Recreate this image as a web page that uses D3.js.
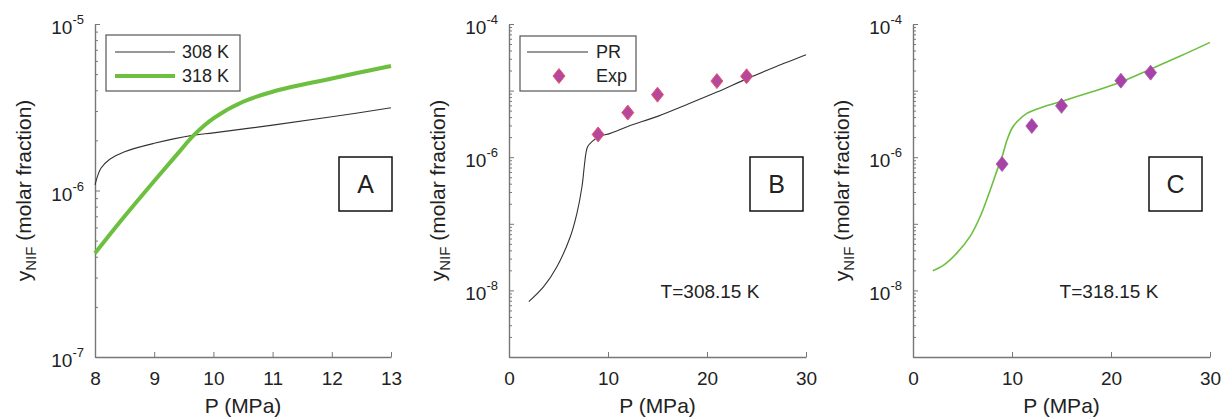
<!DOCTYPE html>
<html>
<head>
<meta charset="utf-8">
<script src="https://cdn.jsdelivr.net/npm/d3@7"></script>
<style>
  body { margin: 0; background: #fff; }
  text { font-family: "Liberation Sans", Arial, sans-serif; fill: #222; }
</style>
</head>
<body>
<script>
// panel A: solubility vs pressure, 8-13 MPa
var pressureA = [8, 8.1, 8.25, 8.5, 9, 9.67, 10, 11, 12, 13];
var y308 = [1.08e-6, 1.36e-6, 1.54e-6, 1.71e-6, 1.92e-6, 2.15e-6, 2.22e-6, 2.47e-6, 2.77e-6, 3.14e-6];
var pressureA318 = [8, 8.5, 9, 9.4, 9.67, 10, 10.5, 11, 12, 13];
var y318 = [4.2e-7, 7.0e-7, 1.14e-6, 1.67e-6, 2.15e-6, 2.71e-6, 3.41e-6, 3.92e-6, 4.71e-6, 5.6e-6];

// panel B: PR model at 308.15 K
var pressureB = [2, 3.5, 4.84, 6.19, 6.86, 7.37, 7.6, 7.77, 7.94, 8.38, 9.05, 10.23, 12, 15, 18, 21, 24, 27, 30];
var yPR308 = [6.8e-9, 1.14e-8, 2.27e-8, 6.4e-8, 1.44e-7, 3.6e-7, 7.2e-7, 1.14e-6, 1.44e-6, 1.71e-6, 2.03e-6, 2.28e-6,
              2.9e-6, 4.1e-6, 6.2e-6, 9.5e-6, 1.5e-5, 2.3e-5, 3.45e-5];

// panel C: PR model at 318.15 K
var pressureC = [2, 3.1, 4.4, 5.8, 6.8, 7.8, 8.5, 9, 9.5, 10, 10.5, 11.5, 13.2, 15, 18, 21, 24, 27, 30];
var yPR318 = [1.98e-8, 2.4e-8, 3.6e-8, 6.6e-8, 1.3e-7, 3.22e-7, 6.4e-7, 1.02e-6, 1.81e-6, 2.72e-6, 3.41e-6,
              4.56e-6, 5.73e-6, 6.9e-6, 9.5e-6, 1.35e-5, 2.1e-5, 3.3e-5, 5.3e-5];

// experimental points
var expP = [9, 12, 15, 21, 24];
var exp308 = [2.2e-6, 4.67e-6, 8.7e-6, 1.39e-5, 1.64e-5];
var exp318 = [7.9e-7, 2.94e-6, 5.9e-6, 1.41e-5, 1.86e-5];

var green = "#6cbf3f";
var width = 1222, height = 420;
var top_ = 24, bottom = 357;

var svg = d3.select("body").append("svg")
    .attr("width", width)
    .attr("height", height);

var panels = [
  { left: 95, right: 391, xDomain: [8, 13], xTicks: [8, 9, 10, 11, 12, 13],
    yDomain: [1e-7, 1e-5], yLabels: [-7, -6, -5], tag: "A", tagX: 339 },
  { left: 509, right: 806, xDomain: [0, 30], xTicks: [0, 10, 20, 30],
    yDomain: [1e-9, 1e-4], yLabels: [-8, -6, -4], tag: "B", tagX: 750, temp: "T=308.15 K" },
  { left: 913, right: 1210, xDomain: [0, 30], xTicks: [0, 10, 20, 30],
    yDomain: [1e-9, 1e-4], yLabels: [-8, -6, -4], tag: "C", tagX: 1149, temp: "T=318.15 K" }
];

var diamond = "M0,-7.5L6,0L0,7.5L-6,0Z";

panels.forEach(function(p) {
  p.x = d3.scaleLinear().domain(p.xDomain).range([p.left, p.right]);
  p.y = d3.scaleLog().domain(p.yDomain).range([bottom, top_]);
  var g = svg.append("g");

  // x axis, ticks pointing inward
  var xAxis = g.append("g")
      .attr("transform", `translate(0,${bottom})`)
      .call(d3.axisBottom(p.x).tickValues(p.xTicks).tickFormat(d3.format("d"))
        .tickSizeInner(-5).tickSizeOuter(0).tickPadding(15));
  xAxis.select(".domain").attr("stroke", "#777").attr("stroke-width", 1.4);
  xAxis.selectAll(".tick line").attr("stroke", "#777");
  xAxis.selectAll(".tick text")
      .style("font-family", "'Liberation Sans', Arial, sans-serif")
      .attr("font-size", 19).attr("fill", "#222");

  // log y axis with minor ticks 2..9
  var lo = Math.round(Math.log10(p.yDomain[0])), hi = Math.round(Math.log10(p.yDomain[1]));
  var tv = [];
  for (var e = lo; e <= hi; e++) {
    for (var m = 1; m <= 9; m++) {
      var v = m * Math.pow(10, e);
      if (v <= p.yDomain[1] * 1.0001) tv.push(v);
    }
  }
  var yAxis = g.append("g")
      .attr("transform", `translate(${p.left},0)`)
      .call(d3.axisLeft(p.y).tickValues(tv).tickSizeInner(-3).tickSizeOuter(0).tickFormat(""));
  yAxis.select(".domain").attr("stroke", "#777").attr("stroke-width", 1.4);
  yAxis.selectAll(".tick line").attr("stroke", "#777")
      .attr("x2", function(d) { return Math.abs(Math.log10(d) - Math.round(Math.log10(d))) < 1e-6 ? 5 : 3; });

  p.yLabels.forEach(function(e) {
    var t = g.append("text")
        .attr("x", p.left - 11)
        .attr("y", p.y(Math.pow(10, e)) + 10)
        .attr("text-anchor", "end")
        .attr("font-size", 19);
    t.append("tspan").text("10");
    t.append("tspan").attr("dy", -10).attr("font-size", 13).text(e);
  });

  // axis titles
  g.append("text")
      .attr("x", (p.left + p.right) / 2)
      .attr("y", 413)
      .attr("text-anchor", "middle")
      .attr("font-size", 21)
      .text("P (MPa)");

  var yl = g.append("text")
      .attr("transform", `translate(${p.left - 64},${(top_ + bottom) / 2}) rotate(-90)`)
      .attr("text-anchor", "middle")
      .attr("font-size", 21);
  yl.append("tspan").text("y");
  yl.append("tspan").attr("font-size", 15).attr("dy", 5).text("NIF");
  yl.append("tspan").attr("dy", -5).text(" (molar fraction)");

  // panel tag box
  g.append("rect")
      .attr("x", p.tagX).attr("y", 157)
      .attr("width", 53).attr("height", 54)
      .attr("fill", "#fff").attr("stroke", "#111").attr("stroke-width", 1.5);
  g.append("text")
      .attr("x", p.tagX + 26.5).attr("y", 193)
      .attr("text-anchor", "middle")
      .attr("font-size", 25)
      .text(p.tag);

  if (p.temp) {
    g.append("text")
        .attr("x", p.tagX - 40).attr("y", 298)
        .attr("text-anchor", "middle")
        .attr("font-size", 19)
        .text(p.temp);
  }
  p.g = g;
});

function lineFor(p) {
  return d3.line()
      .x(d => p.x(d[0]))
      .y(d => p.y(d[1]))
      .curve(d3.curveCatmullRom.alpha(0.5));
}

// Panel A
var A = panels[0];
A.g.append("path")
    .attr("d", lineFor(A)(d3.zip(pressureA, y308)))
    .attr("fill", "none").attr("stroke", "#333").attr("stroke-width", 1.1);
A.g.append("path")
    .attr("d", lineFor(A)(d3.zip(pressureA318, y318)))
    .attr("fill", "none").attr("stroke", green).attr("stroke-width", 4);

var legA = A.g.append("g");
legA.append("rect").attr("x", 106).attr("y", 35).attr("width", 134).attr("height", 56)
    .attr("fill", "#fff").attr("stroke", "#555").attr("stroke-width", 1.2);
legA.append("line").attr("x1", 115).attr("x2", 175).attr("y1", 52).attr("y2", 52)
    .attr("stroke", "#333").attr("stroke-width", 1.1);
legA.append("line").attr("x1", 115).attr("x2", 175).attr("y1", 76).attr("y2", 76)
    .attr("stroke", green).attr("stroke-width", 4);
legA.append("text").attr("x", 182).attr("y", 58).attr("font-size", 18).text("308 K");
legA.append("text").attr("x", 182).attr("y", 82).attr("font-size", 18).text("318 K");

// Panel B
var B = panels[1];
B.g.append("path")
    .attr("d", lineFor(B)(d3.zip(pressureB, yPR308)))
    .attr("fill", "none").attr("stroke", "#333").attr("stroke-width", 1.1);
B.g.selectAll(".exp")
    .data(d3.zip(expP, exp308))
    .enter().append("path")
    .attr("class", "exp")
    .attr("d", diamond)
    .attr("transform", d => `translate(${B.x(d[0])},${B.y(d[1])})`)
    .attr("fill", "#b6479c").attr("stroke", "#ea5a66").attr("stroke-width", 1);

var legB = B.g.append("g");
legB.append("rect").attr("x", 520).attr("y", 36).attr("width", 116).attr("height", 55)
    .attr("fill", "#fff").attr("stroke", "#555").attr("stroke-width", 1.2);
legB.append("line").attr("x1", 527).attr("x2", 588).attr("y1", 52).attr("y2", 52)
    .attr("stroke", "#333").attr("stroke-width", 1.1);
legB.append("path").attr("d", diamond).attr("transform", "translate(559,76)")
    .attr("fill", "#b6479c").attr("stroke", "#ea5a66").attr("stroke-width", 1);
legB.append("text").attr("x", 596).attr("y", 58).attr("font-size", 18).text("PR");
legB.append("text").attr("x", 596).attr("y", 82).attr("font-size", 18).text("Exp");

// Panel C
var C = panels[2];
C.g.append("path")
    .attr("d", lineFor(C)(d3.zip(pressureC, yPR318)))
    .attr("fill", "none").attr("stroke", green).attr("stroke-width", 1.6);
C.g.selectAll(".exp")
    .data(d3.zip(expP, exp318))
    .enter().append("path")
    .attr("class", "exp")
    .attr("d", diamond)
    .attr("transform", d => `translate(${C.x(d[0])},${C.y(d[1])})`)
    .attr("fill", "#a643a6").attr("stroke", "#b055b0").attr("stroke-width", 0.8);
</script>
</body>
</html>
